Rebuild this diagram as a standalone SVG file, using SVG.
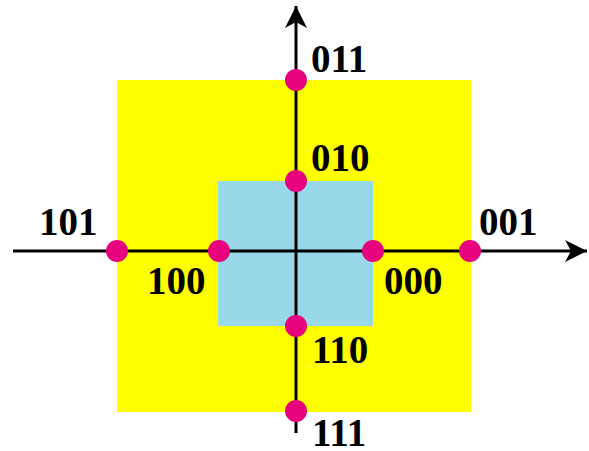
<svg xmlns="http://www.w3.org/2000/svg" width="589" height="451" viewBox="0 0 589 451">
<style>
.lbl{font-family:"Liberation Serif","Times New Roman",serif;font-weight:bold;font-size:39px;fill:#000}
.dot{fill:#E8037E}
.ax{stroke:#000;stroke-width:3;fill:none}
</style>
<defs>
<marker id="ah" markerWidth="24" markerHeight="24" viewBox="0 0 24 24" refX="22" refY="12" orient="auto" markerUnits="userSpaceOnUse">
<path d="M22,12 L0,1 L6,12 L0,23 Z" fill="#000"/>
</marker>
</defs>
<rect id="outer" x="117" y="80" width="354" height="332" fill="#FFFF00"/>
<rect id="inner" x="218" y="181" width="155" height="145" fill="#99D8E8"/>
<g id="connectors">
<line class="ax" x1="13" y1="251" x2="587" y2="251" marker-end="url(#ah)"/>
<line class="ax" x1="296" y1="433" x2="296" y2="6" marker-end="url(#ah)"/>
</g>
<g id="n011"><circle class="dot" cx="296" cy="80" r="11"/><text class="lbl" x="311" y="72">011</text></g>
<g id="n010"><circle class="dot" cx="296" cy="181" r="11"/><text class="lbl" x="311" y="171">010</text></g>
<g id="n101"><circle class="dot" cx="117" cy="251" r="11"/><text class="lbl" x="39" y="235">101</text></g>
<g id="n100"><circle class="dot" cx="219" cy="251" r="11"/><text class="lbl" x="147" y="294">100</text></g>
<g id="n000"><circle class="dot" cx="373" cy="251" r="11"/><text class="lbl" x="384" y="294">000</text></g>
<g id="n001"><circle class="dot" cx="470" cy="251" r="11"/><text class="lbl" x="479" y="235">001</text></g>
<g id="n110"><circle class="dot" cx="296" cy="326" r="11"/><text class="lbl" x="312" y="363">110</text></g>
<g id="n111"><circle class="dot" cx="296" cy="411" r="11"/><text class="lbl" x="312" y="446">111</text></g>
</svg>
